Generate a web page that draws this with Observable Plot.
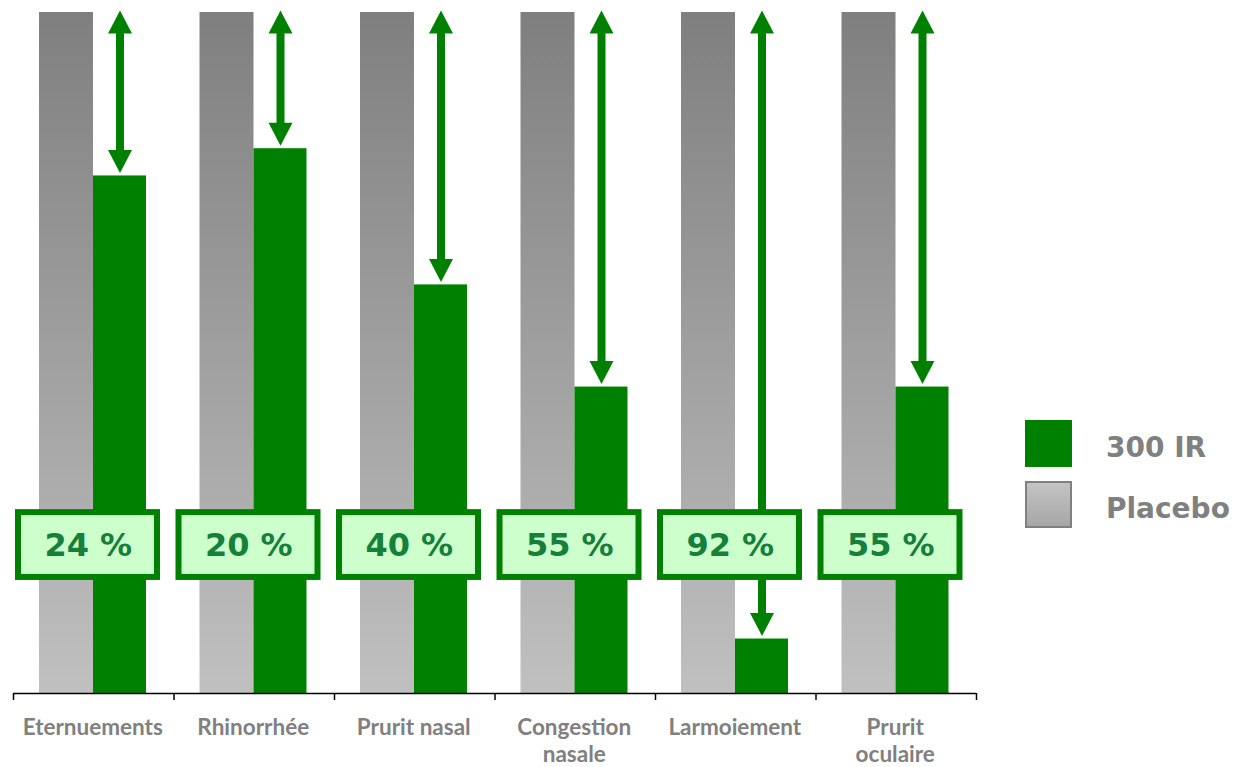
<!DOCTYPE html>
<html>
<head>
<meta charset="utf-8">
<script src="https://cdn.jsdelivr.net/npm/d3@7"></script>
<script src="https://cdn.jsdelivr.net/npm/@observablehq/plot@0.6"></script>
<style>
  html, body { margin: 0; padding: 0; background: #fff; }
  #chart { width: 1234px; height: 767px; }
</style>
</head>
<body>
<div id="chart"></div>
<script>
// Symptom categories (x axis), line breaks mark the two-line labels
const categories = ["Eternuements", "Rhinorrhée", "Prurit nasal", "Congestion nasale", "Larmoiement", "Prurit oculaire"];
const axisLabels = ["Eternuements", "Rhinorrhée", "Prurit nasal", "Congestion\nnasale", "Larmoiement", "Prurit\noculaire"];
// Placebo score taken as the 100 % reference for each symptom
const placeboScores = [100, 100, 100, 100, 100, 100];
// Reduction of the 300 IR group relative to placebo (%)
const reductions = [24, 20, 40, 55, 92, 55];
const seriesNames = ["300 IR", "Placebo"];

// 300 IR score = placebo score minus the stated reduction
const rows = categories.map((c, i) => ({
  category: c,
  placebo: placeboScores[i],
  treated: placeboScores[i] * (1 - reductions[i] / 100),
  reduction: reductions[i]
}));

const W = 1234, H = 767;
const mLeft = 13, mRight = 258, mTop = 12, mBottom = 74;
const bw = (W - mLeft - mRight) / categories.length; // band width in px
const green = "#008000";
const arrowDx = 106.5 - bw / 2; // centre of the 300 IR bar relative to band centre
const labelLow = 16.6, labelHigh = 27.0; // value band where the reduction boxes sit

// filled triangular arrow heads, tip at the anchor point
const headUp = { draw(ctx) { ctx.moveTo(0, 0); ctx.lineTo(-12, 23); ctx.lineTo(12, 23); ctx.closePath(); } };
const headDown = { draw(ctx) { ctx.moveTo(0, 0); ctx.lineTo(-12, -23); ctx.lineTo(12, -23); ctx.closePath(); } };

// gradient definitions for placebo bars and its legend swatch
const defs = () => {
  const g = d3.create("svg:defs");
  const lg = g.append("linearGradient").attr("id", "placeboGrad").attr("x1", 0).attr("y1", 0).attr("x2", 0).attr("y2", 1);
  lg.append("stop").attr("offset", "0%").attr("stop-color", "#7f7f7f");
  lg.append("stop").attr("offset", "100%").attr("stop-color", "#c0c0c0");
  const lg2 = g.append("linearGradient").attr("id", "legendGrad").attr("x1", 0).attr("y1", 0).attr("x2", 0).attr("y2", 1);
  lg2.append("stop").attr("offset", "0%").attr("stop-color", "#c4c4c4");
  lg2.append("stop").attr("offset", "100%").attr("stop-color", "#a6a6a6");
  return g.node();
};

const chart = Plot.plot({
  width: W,
  height: H,
  marginLeft: mLeft,
  marginRight: mRight,
  marginTop: mTop,
  marginBottom: mBottom,
  style: { fontFamily: "Lato, sans-serif", background: "#fff", overflow: "visible" },
  x: { type: "band", domain: categories, padding: 0, round: false, label: null },
  y: { domain: [0, 100], axis: null },
  marks: [
    defs,
    // placebo bars
    Plot.barY(rows, { x: "category", y: "placebo", fill: "url(#placeboGrad)", insetLeft: 26, insetRight: bw - 80 }),
    // 300 IR bars
    Plot.barY(rows, { x: "category", y: "treated", fill: green, insetLeft: 80, insetRight: bw - 133 }),
    // arrow shafts from placebo level down to 300 IR level
    Plot.ruleX(rows, { x: "category", y1: "placebo", y2: "treated", dx: arrowDx, stroke: green, strokeWidth: 8, insetTop: 12, insetBottom: 14 }),
    Plot.dot(rows, { x: "category", y: "placebo", dx: arrowDx, dy: -2, symbol: headUp, fill: green, stroke: "none" }),
    Plot.dot(rows, { x: "category", y: "treated", dx: arrowDx, dy: -3, symbol: headDown, fill: green, stroke: "none" }),
    // reduction boxes
    Plot.barY(rows, { x: "category", y1: () => labelLow, y2: () => labelHigh, fill: "#ccffcc", stroke: green, strokeWidth: 6,
      insetLeft: 5, insetRight: bw - 144, insetTop: 3, insetBottom: 3 }),
    Plot.text(rows, { x: "category", y: () => (labelLow + labelHigh) / 2, text: d => `${d.reduction} %`, dx: -5.5, dy: 1,
      fill: "#16803a", fontSize: 32, fontWeight: "bold", fontFamily: "DejaVu Sans, sans-serif" }),
    // baseline and band-edge ticks
    Plot.ruleY([0], { stroke: "#000", strokeWidth: 1.5 }),
    Plot.ruleX(categories, { x: d => d, dx: -bw / 2, y1: () => 0, y2: () => 0, insetBottom: -7, stroke: "#000", strokeWidth: 1.5 }),
    Plot.ruleX([categories[categories.length - 1]], { x: d => d, dx: bw / 2, y1: () => 0, y2: () => 0, insetBottom: -7, stroke: "#000", strokeWidth: 1.5 }),
    Plot.axisX({
      label: null, tickSize: 0, tickPadding: 22, fontSize: 22.5, fontWeight: "bold", fill: "#808080",
      lineHeight: 1.22, dx: -1,
      tickFormat: d => axisLabels[categories.indexOf(d)]
    })
  ]
});

// legend on the right
const svg = d3.select(chart);
const leg = svg.append("g")
  .attr("font-family", "DejaVu Sans, sans-serif").attr("font-weight", "bold").attr("font-size", 28)
  .attr("fill", "#808080").attr("text-anchor", "start");
const legItems = [
  { name: seriesNames[0], fill: green, stroke: "none", y: 420 },
  { name: seriesNames[1], fill: "url(#legendGrad)", stroke: "#808080", y: 481 }
];
legItems.forEach(it => {
  const framed = it.stroke !== "none";
  leg.append("rect").attr("x", framed ? 1026 : 1025).attr("y", framed ? it.y + 1 : it.y)
    .attr("width", framed ? 45 : 47).attr("height", framed ? 45 : 47)
    .attr("fill", it.fill).attr("stroke", it.stroke).attr("stroke-width", 2);
  leg.append("text").attr("x", 1106).attr("y", it.y + 37).text(it.name);
});

document.getElementById("chart").appendChild(chart);
</script>
</body>
</html>
